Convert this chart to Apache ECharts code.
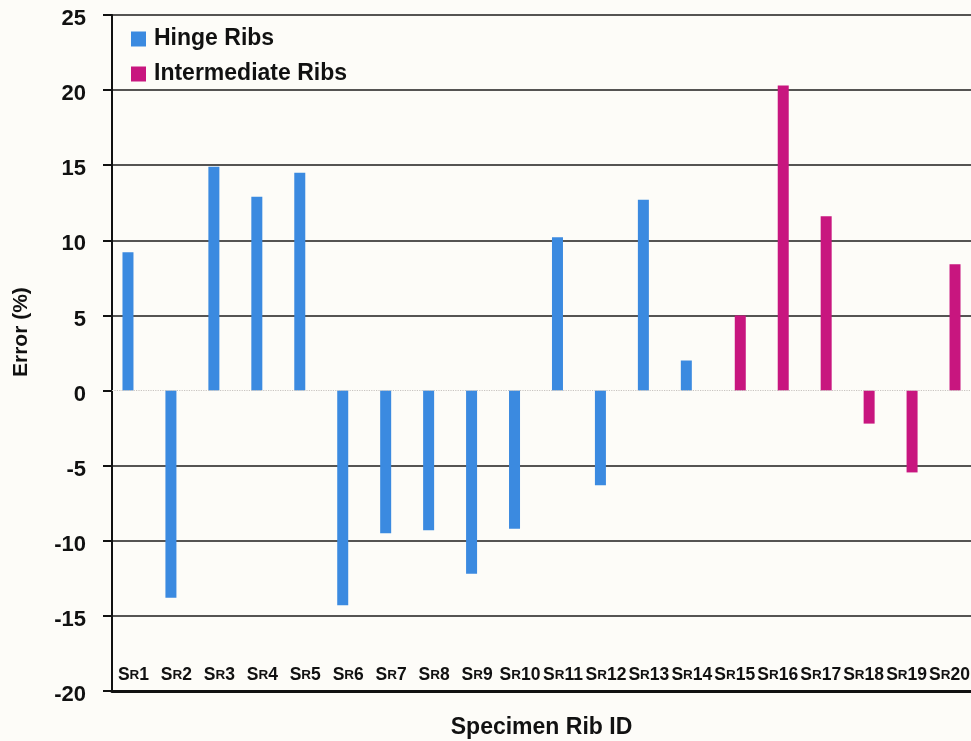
<!DOCTYPE html>
<html>
<head>
<meta charset="utf-8">
<script src="https://cdn.jsdelivr.net/npm/echarts@6/dist/echarts.min.js"></script>
<style>
html,body{margin:0;padding:0;background:#fdfcf8;}
#c{width:971px;height:741px;}
</style>
</head>
<body>
<div id="c"></div>
<script>
const categories = ['SR1','SR2','SR3','SR4','SR5','SR6','SR7','SR8','SR9','SR10','SR11','SR12','SR13','SR14','SR15','SR16','SR17','SR18','SR19','SR20'];
const hingeRibs = [9.2, -13.8, 14.9, 12.9, 14.5, -14.3, -9.5, -9.3, -12.2, -9.2, 10.2, -6.3, 12.7, 2.0, null, null, null, null, null, null];
const intermediateRibs = [null, null, null, null, null, null, null, null, null, null, null, null, null, null, 5.0, 20.3, 11.6, -2.2, -5.45, 8.4];
const yTicks = [-20, -15, -10, -5, 0, 5, 10, 15, 20, 25];

const FONT = '"Liberation Sans", Arial, sans-serif';
const chart = echarts.init(document.getElementById('c'));
const gridColors = yTicks.map(v => v === 0 ? 'rgba(0,0,0,0)' : '#1c1c1c');

chart.setOption({
  backgroundColor: '#fdfcf8',
  animation: false,
  grid: {left: 112, right: 0, top: 15, bottom: 50, containLabel: false, outerBoundsMode: 'none'},
  legend: {
    orient: 'vertical', left: 126, top: 22,
    itemWidth: 15, itemHeight: 15, itemGap: 11,
    icon: 'rect',
    textStyle: {fontFamily: FONT, fontSize: 23, lineHeight: 24, fontWeight: 'bold', color: '#111', padding: [0,0,0,3]},
    data: ['Hinge Ribs', 'Intermediate Ribs']
  },
  xAxis: {
    type: 'category',
    data: categories,
    name: 'Specimen Rib ID',
    nameLocation: 'middle',
    nameGap: 25,
    nameTextStyle: {fontFamily: FONT, fontSize: 23, fontWeight: 'bold', color: '#111'},
    axisLine: {onZero: false, lineStyle: {color: '#111', width: 3}},
    axisTick: {show: false},
    axisLabel: {
      inside: true, margin: 7, interval: 0,
      formatter: v => '{a|S}{b|R}{a|' + v.slice(2) + '}',
      rich: {
        a: {fontFamily: FONT, fontSize: 17.5, fontWeight: 'bold', color: '#111'},
        b: {fontFamily: FONT, fontSize: 13.5, fontWeight: 'bold', color: '#111'}
      }
    }
  },
  yAxis: {
    type: 'value',
    min: -20, max: 25, interval: 5,
    axisLine: {show: true, lineStyle: {color: '#111', width: 2}},
    axisTick: {show: true, length: 9, lineStyle: {color: '#111', width: 2}},
    axisLabel: {
      margin: 26,
      formatter: '{v|{value}}',
      rich: {v: {fontFamily: FONT, fontSize: 22, fontWeight: 'bold', color: '#111', padding: [8, 0, 0, 0]}}
    },
    splitLine: {show: true, lineStyle: {color: gridColors, width: 1.6}}
  },
  graphic: [{
    type: 'text',
    x: 11, y: 377,
    rotation: Math.PI / 2,
    style: {text: 'Error (%)', font: 'bold 21px ' + FONT, fill: '#111'}
  }],
  series: [
    {
      name: 'Hinge Ribs', type: 'bar', data: hingeRibs,
      barWidth: 11, barGap: '0%',
      itemStyle: {color: '#3b8ae0'},
      markLine: {
        silent: true, symbol: 'none', label: {show: false},
        lineStyle: {color: '#c8c4c0', type: 'dotted', width: 1.2},
        data: [{yAxis: 0}]
      }
    },
    {
      name: 'Intermediate Ribs', type: 'bar', data: intermediateRibs,
      barWidth: 11, barGap: '0%',
      itemStyle: {color: '#c8167f'}
    }
  ]
});
</script>
</body>
</html>
